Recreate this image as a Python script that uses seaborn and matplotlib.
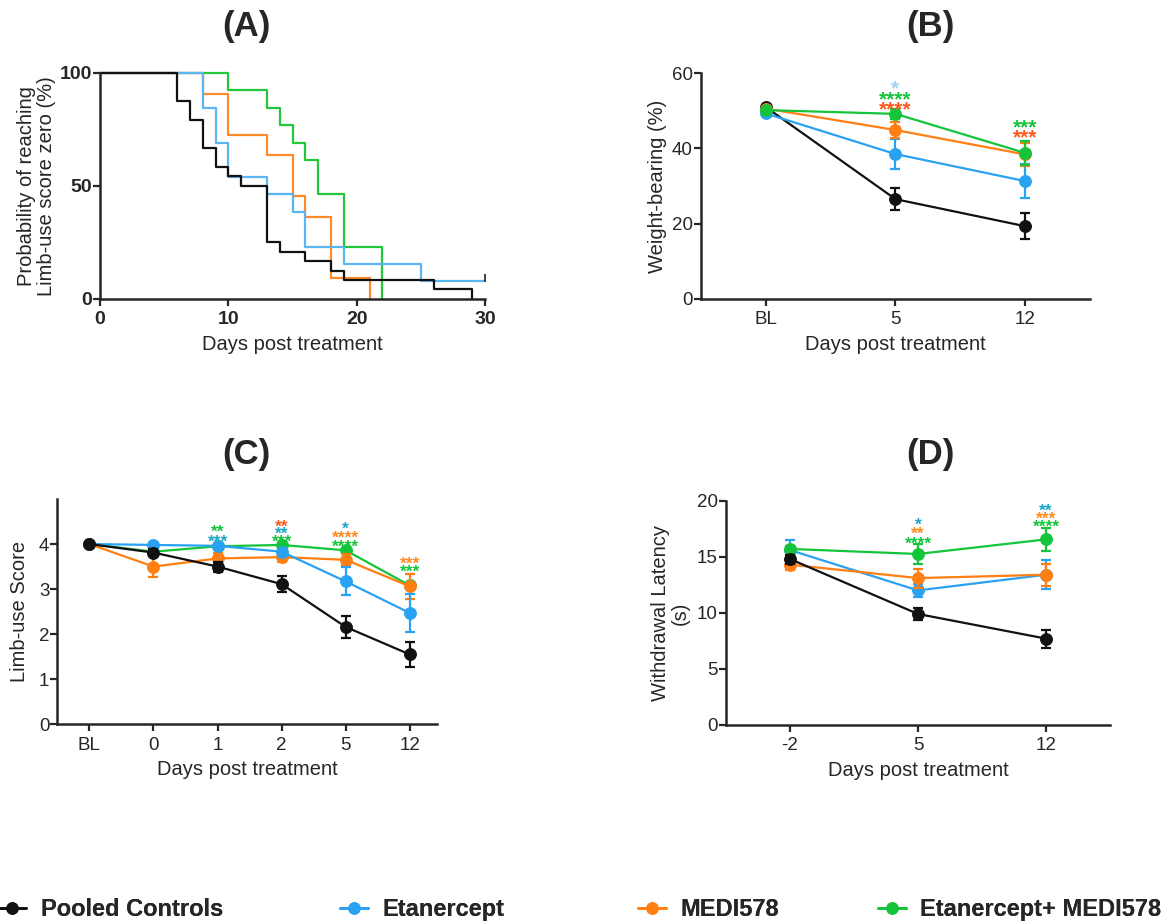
import numpy as np
import pandas as pd
import matplotlib
matplotlib.use("Agg")
import matplotlib.pyplot as plt
from matplotlib.lines import Line2D
import seaborn as sns

# groups and colours
groups = ["Pooled Controls", "Etanercept", "MEDI578", "Etanercept+ MEDI578"]
colors = ["#111111", "#2aa2f2", "#ff7f12", "#14c43a"]
km_colors = ["#111111", "#5ab6f2", "#ff8a2a", "#22c83c"]

# (A) Kaplan-Meier: days and % still above limb-use score zero
km_ctrl_days = [0, 6, 7, 8, 9, 10, 11, 13, 14, 16, 18, 19, 26, 29]
km_ctrl_pct = [100, 87.5, 79.2, 66.7, 58.3, 54.2, 50.0, 25.0, 20.8, 16.7, 12.5, 8.3, 4.2, 0]
km_etan_days = [0, 8, 9, 10, 13, 15, 16, 19, 25, 30]
km_etan_pct = [100, 84.6, 69.2, 53.8, 46.2, 38.5, 23.1, 15.4, 7.7, 7.7]
km_medi_days = [0, 8, 10, 13, 15, 16, 18, 21]
km_medi_pct = [100, 90.9, 72.7, 63.6, 45.5, 36.4, 9.1, 0]
km_combo_days = [0, 10, 13, 14, 15, 16, 17, 19, 22]
km_combo_pct = [100, 92.3, 84.6, 76.9, 69.2, 61.5, 46.2, 23.1, 0]

# (B) weight-bearing (%), mean and SEM
wb_days = ["BL", "5", "12"]
wb_ctrl = [51.0, 26.5, 19.3]
wb_ctrl_sem = [0.5, 3.0, 3.4]
wb_etan = [49.3, 38.5, 31.3]
wb_etan_sem = [0.6, 4.1, 4.5]
wb_medi = [50.6, 44.9, 38.4]
wb_medi_sem = [0.5, 2.0, 3.0]
wb_combo = [50.2, 49.2, 38.8]
wb_combo_sem = [0.6, 1.4, 3.3]

# (C) limb-use score
lu_days = ["BL", "0", "1", "2", "5", "12"]
lu_ctrl = [4.0, 3.81, 3.50, 3.11, 2.16, 1.55]
lu_ctrl_sem = [0.0, 0.07, 0.11, 0.18, 0.25, 0.27]
lu_etan = [4.0, 3.98, 3.96, 3.83, 3.17, 2.47]
lu_etan_sem = [0.0, 0.03, 0.04, 0.06, 0.31, 0.43]
lu_medi = [4.0, 3.50, 3.68, 3.71, 3.65, 3.06]
lu_medi_sem = [0.0, 0.24, 0.12, 0.10, 0.12, 0.27]
lu_combo = [4.0, 3.83, 3.95, 3.98, 3.86, 3.08]
lu_combo_sem = [0.0, 0.05, 0.04, 0.03, 0.03, 0.06]

# (D) withdrawal latency (s)
wl_days = ["-2", "5", "12"]
wl_ctrl = [14.8, 9.9, 7.7]
wl_ctrl_sem = [0.4, 0.5, 0.8]
wl_etan = [15.6, 12.0, 13.4]
wl_etan_sem = [0.9, 0.55, 1.3]
wl_medi = [14.3, 13.1, 13.4]
wl_medi_sem = [0.5, 0.85, 1.0]
wl_combo = [15.7, 15.25, 16.55]
wl_combo_sem = [0.3, 0.88, 1.05]

# significance stars: x index, y, text, colour
b_star_x = [1, 1, 1, 2, 2]
b_star_y = [57.6, 54.9, 52.2, 47.4, 44.7]
b_star_txt = ["*", "****", "****", "***", "***"]
b_star_col = ["#9ed3f6", "#14c43a", "#ff5a1e", "#14c43a", "#ff5a1e"]

c_star_x = [2, 2, 3, 3, 3, 4, 4, 4, 5, 5]
c_star_y = [4.39, 4.18, 4.51, 4.34, 4.17, 4.45, 4.25, 4.06, 3.69, 3.50]
c_star_txt = ["**", "***", "**", "**", "***", "*", "****", "****", "***", "***"]
c_star_col = ["#14c43a", "#1aa6c8", "#ff5a1e", "#1aa6c8", "#14c43a",
              "#1aa6c8", "#ff8a1e", "#14c43a", "#ff8a1e", "#14c43a"]

d_star_x = [1, 1, 1, 2, 2, 2]
d_star_y = [18.3, 17.56, 16.67, 19.6, 18.87, 18.13]
d_star_txt = ["*", "**", "****", "**", "***", "****"]
d_star_col = ["#1aa6c8", "#ff8a1e", "#14c43a", "#1aa6c8", "#ff8a1e", "#14c43a"]

sns.set_style("ticks")
plt.rcParams['font.family'] = ['Liberation Sans', 'DejaVu Sans']
plt.rcParams['axes.linewidth'] = 1.8

fig = plt.figure(figsize=(11.73, 9.24), dpi=100)
axA = fig.add_axes([0.0853, 0.6767, 0.3282, 0.2443])
axB = fig.add_axes([0.5976, 0.6767, 0.3316, 0.2440])
axC = fig.add_axes([0.0489, 0.2161, 0.3234, 0.2439])
axD = fig.add_axes([0.6189, 0.2154, 0.3274, 0.2427])


def style_axis(ax, bold=False):
    sns.despine(ax=ax)
    ax.tick_params(direction='out', length=5, width=1.6,
                   labelsize=14 if bold else 13.5, pad=4)
    ax.tick_params(axis='y', pad=0.8)
    if bold:
        for t in ax.get_xticklabels() + ax.get_yticklabels():
            t.set_fontweight('bold')


# ---- (A)
km_days = [km_ctrl_days, km_etan_days, km_medi_days, km_combo_days]
km_pct = [km_ctrl_pct, km_etan_pct, km_medi_pct, km_combo_pct]
for i in [3, 2, 1, 0]:
    sns.lineplot(x=km_days[i], y=km_pct[i], ax=axA, color=km_colors[i],
                 drawstyle='steps-post', estimator=None, lw=1.6, clip_on=False)
axA.plot([km_etan_days[-1]], [km_etan_pct[-1] + 1.6], marker='|', ms=6,
         mew=1.3, color='#333333', clip_on=False)
axA.set_xlim(0, 30)
axA.set_ylim(0, 100)
axA.set_xticks([0, 10, 20, 30])
axA.set_yticks([0, 50, 100])
style_axis(axA, bold=True)
axA.set_xlabel("Days post treatment", fontsize=14.5)
axA.set_ylabel("Probability of reaching\nLimb-use score zero (%)", fontsize=14.5,
               linespacing=1.05)
axA.xaxis.set_label_coords(0.5, -0.16)
axA.yaxis.set_label_coords(-0.115, 0.5)


def draw_means(ax, days, means, sems, order):
    pos = np.arange(len(days))
    for i in order:
        df = pd.DataFrame({"pos": pos, "val": means[i]})
        sns.lineplot(data=df, x="pos", y="val", ax=ax, color=colors[i], lw=1.6,
                     marker='o', markersize=8.5, markeredgecolor=colors[i],
                     estimator=None, clip_on=False)
        ax.errorbar(pos, means[i], yerr=sems[i], fmt='none', ecolor=colors[i],
                    elinewidth=1.6, capsize=3.8, capthick=1.6)
    ax.set_xticks(pos)
    ax.set_xticklabels(days)
    ax.set_xlim(-0.5, len(days) - 0.5)


def draw_stars(ax, xs, ys, txts, cols, fs):
    for x, y, t, c in zip(xs, ys, txts, cols):
        ax.annotate(t, (x, y), xytext=(0, -0.6 * fs), textcoords='offset points',
                    ha='center', va='baseline', fontsize=fs, fontweight='bold',
                    color=c, annotation_clip=False)


# ---- (B)
draw_means(axB, wb_days, [wb_ctrl, wb_etan, wb_medi, wb_combo],
           [wb_ctrl_sem, wb_etan_sem, wb_medi_sem, wb_combo_sem], [0, 1, 2, 3])
axB.set_ylim(0, 60)
axB.set_yticks([0, 20, 40, 60])
draw_stars(axB, b_star_x, b_star_y, b_star_txt, b_star_col, 15)
style_axis(axB)
axB.set_xlabel("Days post treatment", fontsize=14.5)
axB.set_ylabel("Weight-bearing (%)", fontsize=14.5)
axB.xaxis.set_label_coords(0.5, -0.16)
axB.yaxis.set_label_coords(-0.087, 0.5)

# ---- (C)
draw_means(axC, lu_days, [lu_ctrl, lu_etan, lu_medi, lu_combo],
           [lu_ctrl_sem, lu_etan_sem, lu_medi_sem, lu_combo_sem], [3, 2, 1, 0])
axC.set_xlim(-0.5, 5.42)
axC.set_ylim(0, 5)
axC.set_yticks([0, 1, 2, 3, 4])
draw_stars(axC, c_star_x, c_star_y, c_star_txt, c_star_col, 12.5)
style_axis(axC)
axC.set_xlabel("Days post treatment", fontsize=14.5)
axC.set_ylabel("Limb-use Score", fontsize=14.5)
axC.xaxis.set_label_coords(0.5, -0.16)
axC.yaxis.set_label_coords(-0.075, 0.5)

# ---- (D)
draw_means(axD, wl_days, [wl_ctrl, wl_etan, wl_medi, wl_combo],
           [wl_ctrl_sem, wl_etan_sem, wl_medi_sem, wl_combo_sem], [1, 2, 3, 0])
axD.set_ylim(0, 20)
axD.set_yticks([0, 5, 10, 15, 20])
draw_stars(axD, d_star_x, d_star_y, d_star_txt, d_star_col, 12.5)
style_axis(axD)
axD.set_xlabel("Days post treatment", fontsize=14.5)
axD.set_ylabel("Withdrawal Latency\n(s)", fontsize=14.5, linespacing=1.05)
axD.xaxis.set_label_coords(0.5, -0.16)
axD.yaxis.set_label_coords(-0.094, 0.5)

# panel letters
for lab, x, y in [("(A)", 0.2097, 0.9718), ("(B)", 0.7928, 0.9718),
                  ("(C)", 0.2097, 0.5076), ("(D)", 0.7928, 0.5076)]:
    fig.text(x, y, lab, ha='center', va='center', fontsize=25, fontweight='bold')

# legend along the bottom, one entry per group
leg_x = [-0.0017, 0.2899, 0.5439, 0.7485]
for c, g, lx in zip(colors, groups, leg_x):
    h = Line2D([], [], color=c, marker='o', markersize=8, lw=2)
    leg = fig.legend([h], [g], loc='center left', bbox_to_anchor=(lx, 0.0152),
                     frameon=False, prop={'weight': 'bold', 'size': 17},
                     handlelength=1.2, handletextpad=0.6,
                     borderaxespad=0, borderpad=0)
    fig.add_artist(leg)

fig.savefig("out.png", dpi=100)
